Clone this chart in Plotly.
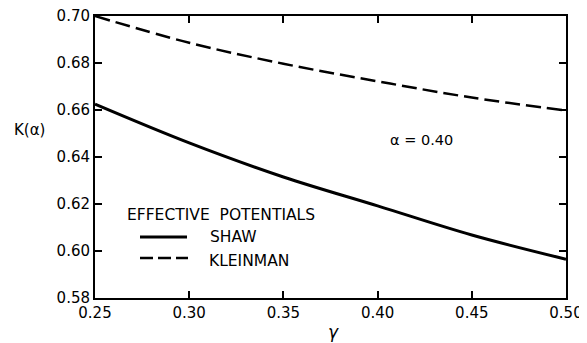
import plotly.graph_objects as go

gamma = [0.25, 0.30, 0.35, 0.40, 0.45, 0.50]
shaw = [0.6625, 0.6460, 0.6315, 0.6192, 0.6068, 0.5965]
kleinman = [0.700, 0.6886, 0.6797, 0.6722, 0.6653, 0.6598]

x_ticks = [0.25, 0.30, 0.35, 0.40, 0.45, 0.50]
x_ticklabels = ["0.25", "0.30", "0.35", "0.40", "0.45", "0.50"]
y_ticks = [0.58, 0.60, 0.62, 0.64, 0.66, 0.68, 0.70]
y_ticklabels = ["0.58", "0.60", "0.62", "0.64", "0.66", "0.68", "0.70"]

FONT = "DejaVu Sans"
OFF = 8  # default page body margin
W, H = 587 - OFF, 343 - OFF
L, R, T, B = 95 - OFF, 21, 16 - OFF, 45


def px(x):
    return (x - OFF - L) / (W - L - R)


def py(y):
    return (H - B - (y - OFF)) / (H - T - B)


fig = go.Figure()
fig.add_trace(go.Scatter(x=gamma, y=shaw, mode="lines", name="SHAW",
                         line=dict(color="black", width=3, shape="spline")))
fig.add_trace(go.Scatter(x=gamma, y=kleinman, mode="lines", name="KLEINMAN",
                         line=dict(color="black", width=2.5, shape="spline", dash="15px,6px")))

fig.update_layout(
    width=W, height=H,
    margin=dict(l=L, r=R, t=T, b=B, autoexpand=False),
    paper_bgcolor="white", plot_bgcolor="white",
    showlegend=False,
    font=dict(family=FONT, size=15, color="black"),
)
fig.update_xaxes(range=[0.25, 0.50], tickvals=x_ticks, ticktext=x_ticklabels, automargin=False,
                 ticklabeloverflow="allow",
                 showgrid=False, zeroline=False, showline=True, linecolor="black", linewidth=2,
                 mirror="ticks", ticks="inside", ticklen=7, tickwidth=1.5, tickcolor="black",
                 tickfont=dict(size=15))
fig.update_yaxes(range=[0.58, 0.70], tickvals=y_ticks, ticktext=y_ticklabels, automargin=False,
                 ticklabeloverflow="allow",
                 showgrid=False, zeroline=False, showline=True, linecolor="black", linewidth=2,
                 mirror="ticks", ticks="inside", ticklen=7, tickwidth=1.5, tickcolor="black",
                 tickfont=dict(size=15))

# axis titles
fig.add_annotation(text="K(α)", x=px(29), y=py(130), xref="paper", yref="paper",
                   showarrow=False, font=dict(size=15), xanchor="center", yanchor="middle")
fig.add_annotation(text="<i>γ</i>", x=px(333), y=py(332), xref="paper", yref="paper",
                   showarrow=False, font=dict(size=17), xanchor="center", yanchor="middle")

# alpha annotation
fig.add_annotation(text="α = 0.40", x=px(421), y=py(140), xref="paper", yref="paper",
                   showarrow=False, font=dict(size=14.5), xanchor="center", yanchor="middle")

# manual legend
fig.add_annotation(text="EFFECTIVE  POTENTIALS", x=px(125), y=py(215), xref="paper", yref="paper",
                   showarrow=False, font=dict(size=15.5), xanchor="left", yanchor="middle")
fig.add_annotation(text="SHAW", x=px(208), y=py(237), xref="paper", yref="paper",
                   showarrow=False, font=dict(size=15.5), xanchor="left", yanchor="middle")
fig.add_annotation(text="KLEINMAN", x=px(207), y=py(261), xref="paper", yref="paper",
                   showarrow=False, font=dict(size=15.5), xanchor="left", yanchor="middle")
fig.add_shape(type="line", xref="paper", yref="paper",
              x0=px(140), x1=px(187), y0=py(237), y1=py(237),
              line=dict(color="black", width=3))
fig.add_shape(type="line", xref="paper", yref="paper",
              x0=px(140), x1=px(188), y0=py(258), y1=py(258),
              line=dict(color="black", width=2.5, dash="13px,5px"))

fig.write_html("out.html")
